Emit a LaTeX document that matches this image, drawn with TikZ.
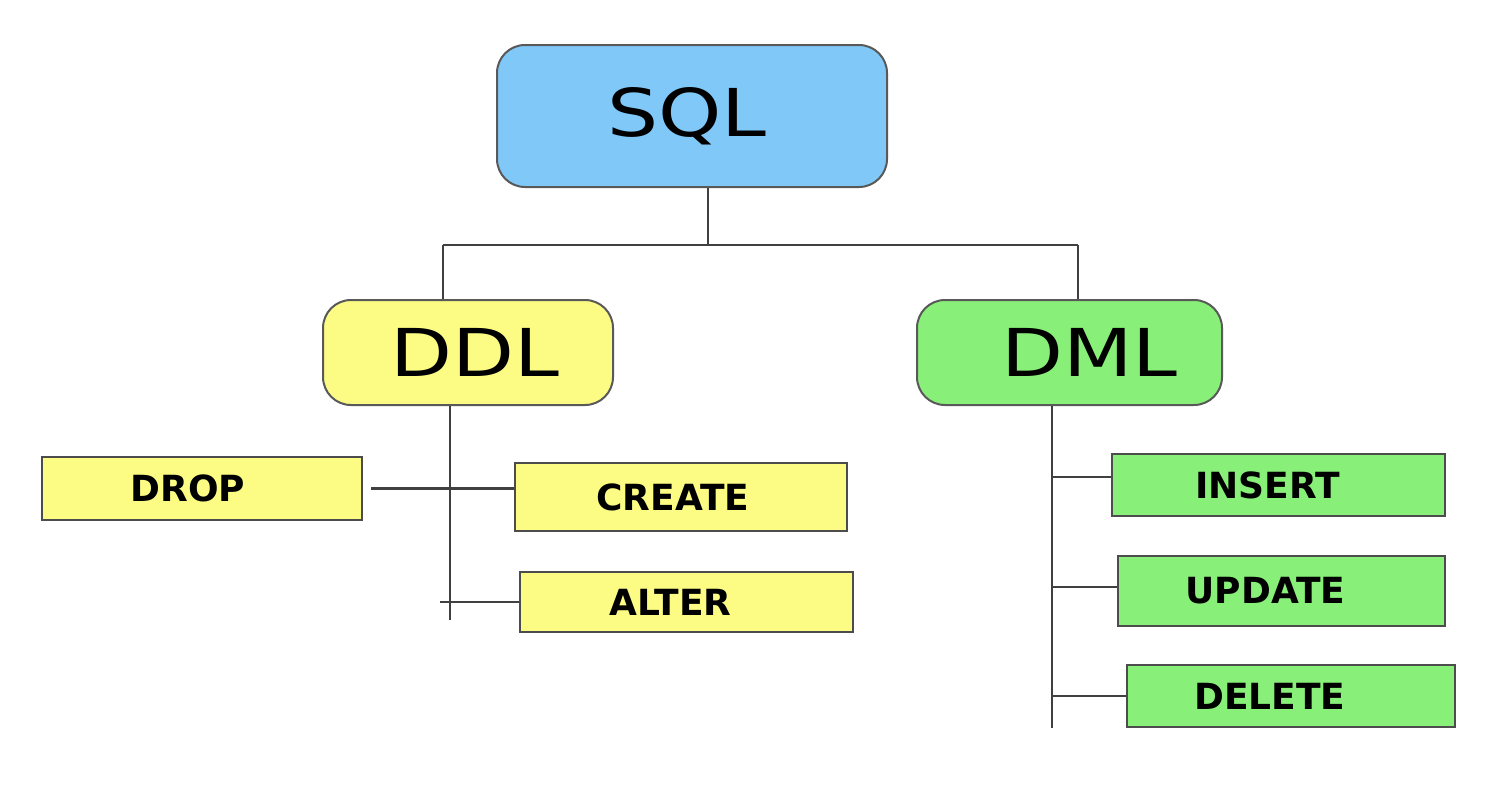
\documentclass[tikz,border=0pt]{standalone}
\usepackage{graphicx}
\usepackage{fontspec}
\newfontfamily\dvs{DejaVu Sans}
\definecolor{sqlblue}{RGB}{128,200,248}
\definecolor{ddlyellow}{RGB}{252,252,132}
\definecolor{dmlgreen}{RGB}{136,240,120}
\begin{document}
\begin{tikzpicture}[x=1pt,y=-1pt,
  big/.style={draw=black!65, line width=2pt, rounded corners=28pt,
    font=\dvs\fontsize{66}{70}\selectfont, inner sep=0pt},
  leaf/.style={draw=black!70, line width=2pt,
    font=\dvs\bfseries\fontsize{36}{40}\selectfont, inner sep=0pt},
  conn/.style={draw=black!75, line width=2.5pt}]
\useasboundingbox[fill=white] (0,0) rectangle (1507,795);

% main nodes
\node[big, fill=sqlblue, minimum width=390pt, minimum height=142pt] (sql) at (692,116) {\hspace*{-10pt}\scalebox{1.22}[1]{SQL}};
\node[big, fill=ddlyellow, minimum width=290pt, minimum height=105pt] (ddl) at (468,352.5) {\hspace*{14pt}\scalebox{1.22}[1]{DDL}};
\node[big, fill=dmlgreen, minimum width=305pt, minimum height=105pt] (dml) at (1069.5,352.5) {\hspace*{40pt}\scalebox{1.22}[1]{DML}};

% leaves
\node[leaf, fill=ddlyellow, minimum width=320pt, minimum height=63pt] (drop) at (202,488.5) {\hspace*{-28pt}DROP};
\node[leaf, fill=ddlyellow, minimum width=332pt, minimum height=68pt] (create) at (681,497) {\hspace*{-16pt}CREATE};
\node[leaf, fill=ddlyellow, minimum width=333pt, minimum height=60pt] (alter) at (686.5,602) {\hspace*{-32pt}ALTER};
\node[leaf, fill=dmlgreen, minimum width=333pt, minimum height=62pt] (insert) at (1278.5,485) {\hspace*{-22pt}INSERT};
\node[leaf, fill=dmlgreen, minimum width=327pt, minimum height=70pt] (update) at (1281.5,591) {\hspace*{-32pt}UPDATE};
\node[leaf, fill=dmlgreen, minimum width=328pt, minimum height=62pt] (delete) at (1291,696) {\hspace*{-42pt}DELETE};

% connectors from SQL
\coordinate (j) at (708,245);
\coordinate (jl) at (443,245);
\coordinate (jr) at (1078,245);
\draw[conn] (sql.south -| j) -- (j);
\draw[conn] (jl) -- (jr);
\draw[conn] (jl) -- (jl |- ddl.north);
\draw[conn] (jr) -- (jr |- dml.north);

% DDL branch
\coordinate (ddlend) at (450,620);
\draw[conn] (ddlend |- ddl.south) -- (ddlend);
\draw[conn] ([xshift=8pt]drop.east) -- (create.west |- drop.east);
\draw[conn] ([xshift=-10pt]ddlend |- alter.west) -- (alter.west);

% DML branch
\coordinate (dmlend) at (1052,728);
\draw[conn] (dmlend |- dml.south) -- (dmlend);
\draw[conn] ([yshift=8pt]insert.west -| dmlend) -- ([yshift=8pt]insert.west);
\draw[conn] ([yshift=4pt]update.west -| dmlend) -- ([yshift=4pt]update.west);
\draw[conn] (delete.west -| dmlend) -- (delete.west);
\end{tikzpicture}
\end{document}
